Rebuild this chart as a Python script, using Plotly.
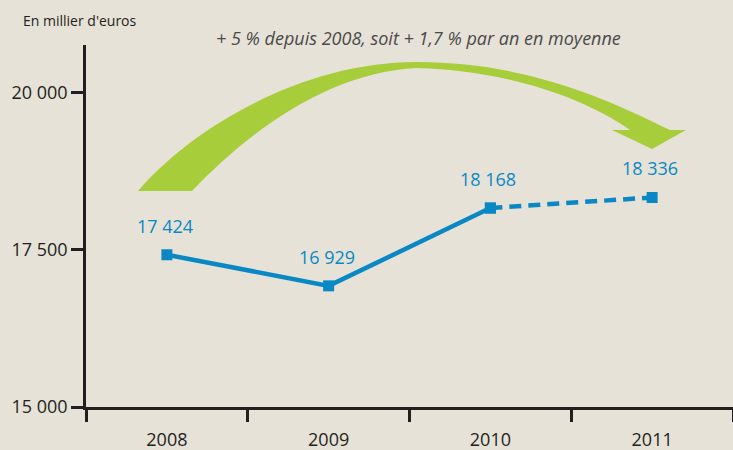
import plotly.graph_objects as go

# données
annees = ["2008", "2009", "2010", "2011"]
valeurs = [17424, 16929, 18168, 18336]
etiquettes = ["17 424", "16 929", "18 168", "18 336"]
y_ticks = [15000, 17500, 20000]
y_labels = ["15 000", "17 500", "20 000"]

BLEU = "#0a88c4"
VERT = "#a8cd3a"
FOND = "#e6e2d7"
TEXTE = "#231f20"
POLICE = "Open Sans"

W, H = 733, 450
L, R, T, B = 86, 0, 45, 43


def px(x, y):
    # pixel -> coordonnées papier
    return (x - L) / (W - L - R), (H - B - y) / (H - T - B)


def path(segments):
    parts = []
    for cmd, pts in segments:
        coords = " ".join("%.4f,%.4f" % px(*p) for p in pts)
        parts.append((cmd + " " + coords).strip())
    return " ".join(parts)


fig = go.Figure()

# partie réelle (trait plein)
fig.add_trace(go.Scatter(
    x=annees[:3], y=valeurs[:3], mode="lines+markers",
    line=dict(color=BLEU, width=4.5),
    marker=dict(symbol="square", size=11, color=BLEU),
    hoverinfo="skip"))
# 2011 estimé (pointillés)
fig.add_trace(go.Scatter(
    x=annees[2:], y=valeurs[2:], mode="lines+markers",
    line=dict(color=BLEU, width=4.5, dash="12px,7px"),
    marker=dict(symbol="square", size=11, color=BLEU),
    hoverinfo="skip"))

# étiquettes des valeurs (x = position de la catégorie)
for i, (v, t) in enumerate(zip(valeurs, etiquettes)):
    fig.add_annotation(x=i, y=v, text=t, showarrow=False, yshift=29, xshift=-2,
                       font=dict(family=POLICE, size=18, color=BLEU))

# flèche verte
fleche = path([
    ("M", [(138, 191)]),
    ("C", [(190, 130), (300, 62), (417, 62)]),
    ("C", [(520, 62), (600, 95), (670, 130)]),
    ("L", [(686, 130)]),
    ("L", [(652, 149)]),
    ("L", [(612, 130)]),
    ("L", [(630, 130)]),
    ("C", [(580, 95), (500, 70), (417, 68)]),
    ("C", [(330, 72), (250, 130), (192, 191)]),
    ("Z", []),
])
fig.add_shape(type="path", path=fleche, xref="paper", yref="paper",
              fillcolor=VERT, line=dict(width=0), layer="below")

fig.add_annotation(text="En millier d'euros", xref="paper", yref="paper",
                   x=px(21, 0)[0], y=px(0, 20)[1], xanchor="left", yanchor="middle",
                   showarrow=False, font=dict(family=POLICE, size=14, color=TEXTE))
fig.add_annotation(text="<i>+ 5 % depuis 2008, soit + 1,7 % par an en moyenne</i>",
                   xref="paper", yref="paper",
                   x=px(418, 0)[0], y=px(0, 38)[1], xanchor="center", yanchor="middle",
                   showarrow=False, font=dict(family=POLICE, size=18, color="#4a4a4a"))

fig.update_xaxes(
    type="category", range=[-0.5, 3.5], tickson="boundaries", automargin=False,
    ticks="outside", ticklen=12, tickwidth=2.5, tickcolor=TEXTE, ticklabelstandoff=15,
    showline=True, linecolor=TEXTE, linewidth=2.5, showgrid=False, zeroline=False,
    tickfont=dict(family=POLICE, size=18, color=TEXTE))

fig.update_yaxes(
    range=[15000, 20764], tickvals=y_ticks, ticktext=y_labels, automargin=False,
    ticks="outside", ticklen=12, tickwidth=2.5, tickcolor=TEXTE,
    showline=True, linecolor=TEXTE, linewidth=2.5, showgrid=False, zeroline=False,
    tickfont=dict(family=POLICE, size=18, color=TEXTE))

fig.update_layout(
    width=W, height=H, margin=dict(l=L, r=R, t=T, b=B),
    paper_bgcolor=FOND, plot_bgcolor=FOND, showlegend=False)

fig.write_html("out.html", config={"displayModeBar": False},
               post_script="document.body.style.margin='0';")
